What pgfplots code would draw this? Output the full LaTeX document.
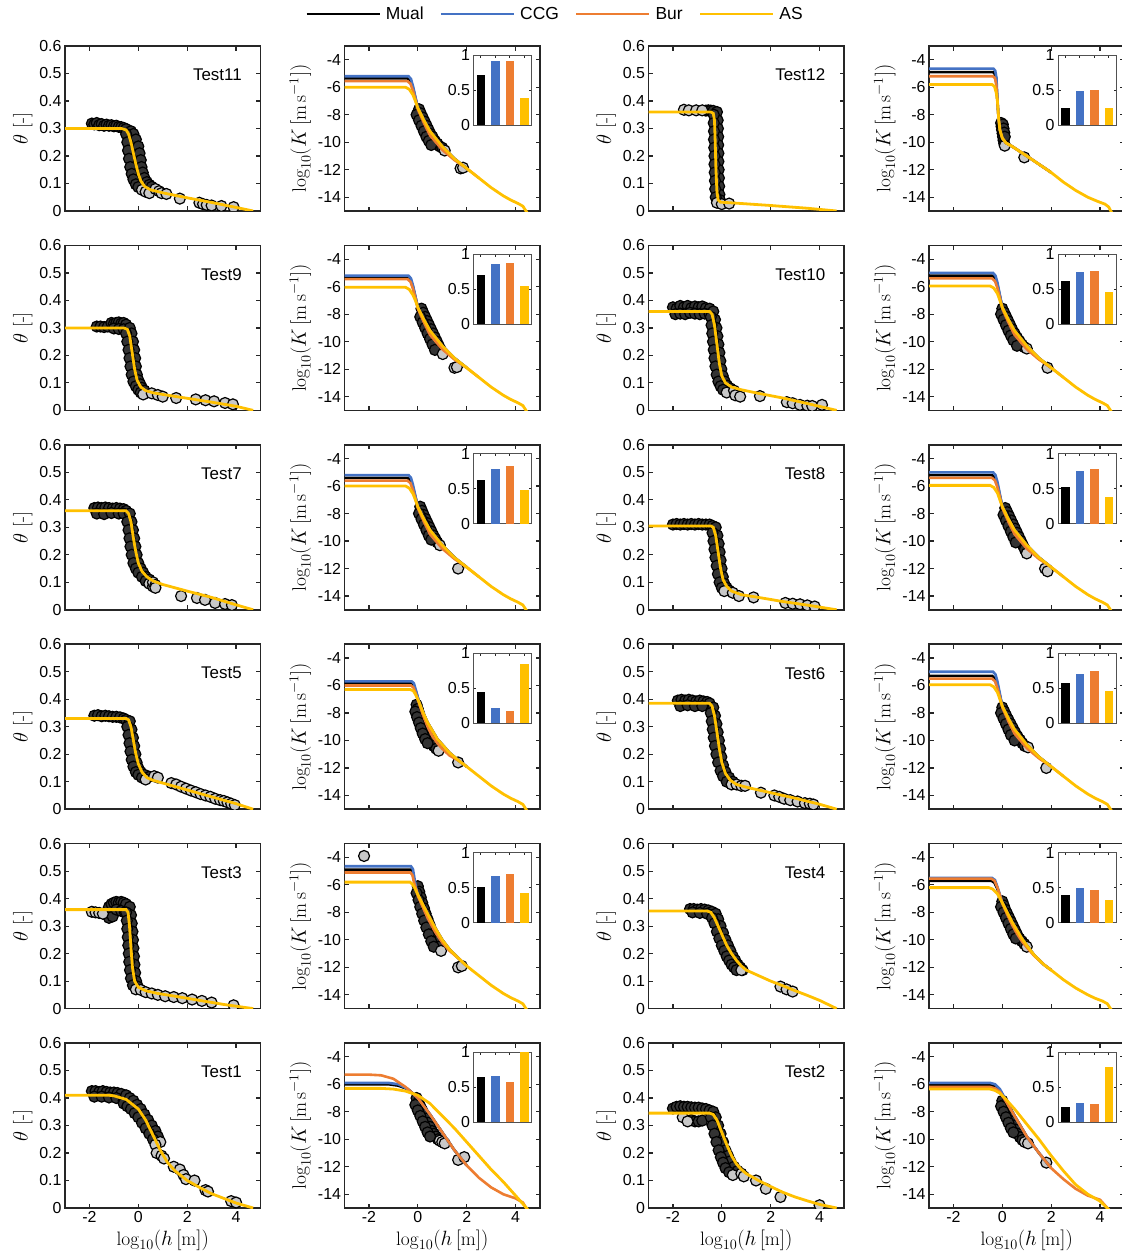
\documentclass[border=0pt]{standalone}
\usepackage{fontspec}
\setsansfont{Liberation Sans}
\usepackage{pgfplots}
\pgfplotsset{compat=1.18}
\definecolor{cblue}{HTML}{4472C4}
\definecolor{corange}{HTML}{ED7D31}
\definecolor{cyellow}{HTML}{FFC000}
\definecolor{axgray}{HTML}{262626}
\definecolor{scatfill}{HTML}{C8C8C8}
\tikzset{testlab/.style={anchor=east, font=\sffamily\fontsize{17}{17}\selectfont}}
\pgfplotsset{
 base/.style={scale only axis, width=195.5bp, height=165bp, anchor=north west,
  xmin=-3, xmax=5, xtick={-2,0,2,4}, xticklabels={},
  tick align=inside, major tick length=4.5bp,
  axis line style={draw=axgray, line width=1.5bp},
  major tick style={draw=axgray, line width=1.2bp},
  tick label style={font=\sffamily\fontsize{16}{16}\selectfont, text=black},
  label style={font=\fontsize{19.5}{22}\selectfont},
  clip=true, clip marker paths=true},
 thetaaxis/.style={base, ymin=0, ymax=0.6, ytick={0,0.1,0.2,0.3,0.4,0.5,0.6},
  yticklabels={0,0.1,0.2,0.3,0.4,0.5,0.6}, ylabel={$\theta$ [-]}},
 Kaxis/.style={base, ymin=-15, ymax=-3, ytick={-14,-12,-10,-8,-6,-4},
  yticklabels={-14,-12,-10,-8,-6,-4}, ylabel={$\log_{10}(K\,[\mathrm{m\,s^{-1}}])$}},
 bottom/.style={xticklabels={-2,0,2,4}, xlabel={$\log_{10}(h\,[\mathrm{m}])$}},
 inset/.style={scale only axis, width=58bp, height=70bp, anchor=north west,
  xmin=0.5, xmax=4.5, ymin=0, ymax=1, xtick={1,2,3,4}, xticklabels={},
  ytick={0,0.5,1}, yticklabels={0,0.5,1}, tick align=inside, major tick length=2.5bp,
  axis line style={draw=axgray!80, line width=0.9bp},
  major tick style={draw=axgray, line width=0.8bp},
  tick label style={font=\sffamily\fontsize{16}{16}\selectfont},
  axis background/.style={fill=white}},
 scat/.style={only marks, mark=*, mark size=5.5bp,
  mark options={fill=scatfill, draw=black, line width=1.2bp}, forget plot},
 band/.style={only marks, mark=*, mark size=5.5bp,
  mark options={fill=black!80, draw=black, line width=1.2bp}, forget plot},
 Mual/.style={black, line width=2.6bp},
 CCG/.style={cblue, line width=2.6bp},
 Bur/.style={corange, line width=2.6bp},
 AS/.style={cyellow, line width=2.8bp},
 legendopts/.style={legend entries={Mual,CCG,Bur,AS}, legend columns=4,
  legend image code/.code={\draw[##1] (0bp,0bp) -- (73bp,0bp);},
  legend style={draw=none, fill=none, at={(axis description cs:-0.217,1.194)}, anchor=west,
   font=\sffamily\fontsize{17.5}{18}\selectfont,
   /tikz/every even column/.append style={column sep=14bp},
   /tikz/every odd column/.append style={column sep=3bp}}},
}
% theta panel: x, y, name, AS curve, dense points, single points, extra options
\newcommand{\TP}[7]{%
\begin{axis}[thetaaxis,at={(#1bp,-#2bp)},#7]
\addplot[band] coordinates {#5};
\addplot[scat] coordinates {#6};
\addplot[AS] coordinates {#4};
\node[testlab] at (rel axis cs:0.922,0.824) {#3};
\end{axis}}
% K panel: x, y, Mual, CCG, Bur, AS, dense points, single points, extra options
\newcommand{\KP}[9]{%
\begin{axis}[Kaxis,at={(#1bp,-#2bp)},#9]
\addplot[band] coordinates {#7};
\addplot[scat] coordinates {#8};
\addplot[Mual] coordinates {#3};
\addplot[CCG] coordinates {#4};
\addplot[Bur] coordinates {#5};
\addplot[AS] coordinates {#6};
\end{axis}}
% inset: x, y of K panel, four bar values
\newcommand{\IN}[6]{%
\begin{axis}[inset,at={(#1bp+129bp,-#2bp-9bp)}]
\addplot[ybar,bar width=8.5bp,bar shift=0pt,fill=black,draw=none] coordinates {(1,#3)};
\addplot[ybar,bar width=8.5bp,bar shift=0pt,fill=cblue,draw=none] coordinates {(2,#4)};
\addplot[ybar,bar width=8.5bp,bar shift=0pt,fill=corange,draw=none] coordinates {(3,#5)};
\addplot[ybar,bar width=8.5bp,bar shift=0pt,fill=cyellow,draw=none] coordinates {(4,#6)};
\end{axis}}
\begin{document}
\begin{tikzpicture}
\useasboundingbox (0,0) rectangle (1122bp,-1258bp);
\clip (0,0) rectangle (1122bp,-1258bp);
% ================= Row 1 =================
\TP{65}{46}{Test11}
{(-3,0.30)(-0.7,0.30)(-0.5,0.295)(-0.4,0.28)(-0.3,0.25)(-0.2,0.21)(-0.1,0.17)(0,0.135)(0.1,0.11)(0.25,0.09)(0.5,0.077)(1,0.066)(2,0.048)(3,0.031)(4,0.013)(4.7,0)}
{(-1.9,0.318)(-1.8,0.315)(-1.7,0.32)(-1.6,0.312)(-1.5,0.316)(-1.4,0.31)(-1.3,0.314)(-1.2,0.31)(-1.1,0.312)(-1.0,0.308)(-0.9,0.31)(-0.8,0.306)(-0.7,0.305)(-0.6,0.302)(-0.5,0.298)
(-0.3,0.29)(-0.2,0.28)(-0.1,0.26)(0,0.235)(0.05,0.21)(0.1,0.185)(0.13,0.16)(0.18,0.14)(0.25,0.12)(0.35,0.105)(0.45,0.095)(0.55,0.088)
(-0.5,0.28)(-0.45,0.25)(-0.42,0.22)(-0.38,0.19)(-0.33,0.16)(-0.27,0.135)(-0.2,0.115)(-0.1,0.097)(0,0.087)}
{(0.15,0.077)(0.3,0.07)(0.45,0.065)(0.7,0.08)(0.85,0.072)(0.95,0.065)(1.15,0.062)(1.7,0.045)(2.5,0.03)(2.65,0.025)(2.8,0.022)(3.0,0.02)(3.4,0.018)(3.9,0.014)}{}
\KP{344.5}{46}
{(-3,-5.35)(-0.42,-5.35)(-0.3,-5.55)(-0.2,-6.05)(-0.1,-6.78)(0,-7.5)(0.25,-8.4)(0.5,-9.2)(1,-10.3)(1.5,-11.2)(2,-11.9)}
{(-3,-5.2)(-0.38,-5.2)(-0.28,-5.4)(-0.2,-5.9)(-0.1,-6.7)(0,-7.5)(0.25,-8.4)(0.5,-9.2)(1,-10.3)(1.5,-11.2)(2,-11.9)}
{(-3,-5.55)(-0.42,-5.55)(-0.3,-5.75)(-0.2,-6.25)(-0.1,-6.88)(0,-7.6)(0.25,-8.6)(0.5,-9.5)(1,-10.55)(1.5,-11.3)(2,-11.9)(2.5,-12.6)}
{(-3,-6.0)(-0.5,-6.0)(-0.35,-6.15)(-0.2,-6.55)(-0.1,-7.0)(0,-7.5)(0.25,-8.4)(0.5,-9.2)(1,-10.3)(1.5,-11.2)(2,-11.9)(2.5,-12.6)(3,-13.3)(3.5,-13.9)(3.8,-14.2)(4.1,-14.45)(4.3,-14.65)(4.5,-15.2)}
{(0.05,-7.6)(0.12,-7.9)(0.2,-8.2)(0.28,-8.5)(0.36,-8.8)(0.44,-9.1)(0.52,-9.4)(0.6,-9.6)(0.7,-9.9)(0.8,-10.1)(0.9,-10.3)(1.0,-10.4)(-0.05,-8.0)(0.05,-8.4)(0.15,-8.8)(0.25,-9.2)(0.35,-9.6)(0.45,-9.9)(0.55,-10.2)}
{(1.1,-10.6)(1.75,-11.9)(1.85,-11.85)}
{legendopts}
\IN{344.5}{46}{0.72}{0.91}{0.92}{0.39}
\TP{648.5}{46}{Test12}
{(-3,0.36)(-0.45,0.36)(-0.35,0.355)(-0.3,0.33)(-0.27,0.25)(-0.24,0.15)(-0.2,0.07)(-0.15,0.04)(-0.05,0.032)(0.5,0.029)(2,0.02)(3.5,0.01)(4.7,0)}
{(-0.65,0.365)(-0.55,0.366)(-0.45,0.365)(-0.35,0.364)
(-0.2,0.36)(-0.17,0.33)(-0.16,0.3)(-0.15,0.27)(-0.15,0.24)(-0.14,0.21)(-0.14,0.18)(-0.13,0.15)(-0.12,0.12)(-0.11,0.09)(-0.1,0.06)(-0.08,0.04)
(-0.33,0.35)(-0.33,0.32)(-0.32,0.29)(-0.32,0.26)(-0.31,0.23)(-0.3,0.2)(-0.3,0.17)(-0.29,0.14)(-0.28,0.11)(-0.27,0.08)(-0.25,0.05)}
{(-1.55,0.368)(-1.35,0.366)(-1.05,0.366)(-0.8,0.366)(-0.2,0.03)(0.0,0.025)(0.3,0.027)}{}
\KP{929}{46}
{(-3,-4.9)(-0.38,-4.9)(-0.3,-5.05)(-0.25,-5.5)(-0.2,-7.0)(-0.15,-8.3)(-0.1,-9.1)(0,-9.7)(0.15,-10.05)(0.4,-10.3)(1,-11.0)(1.5,-11.6)(2,-12.2)}
{(-3,-4.65)(-0.36,-4.65)(-0.29,-4.8)(-0.24,-5.3)(-0.2,-7.0)(-0.15,-8.3)(-0.1,-9.1)(0,-9.7)(0.15,-10.05)(0.4,-10.3)(1,-11.0)(1.5,-11.6)(2,-12.2)}
{(-3,-5.2)(-0.38,-5.2)(-0.3,-5.35)(-0.25,-5.8)(-0.2,-7.0)(-0.15,-8.3)(-0.1,-9.1)(0,-9.7)(0.15,-10.05)(0.4,-10.3)(1,-11.0)(1.5,-11.6)(2,-12.2)}
{(-3,-5.8)(-0.42,-5.8)(-0.32,-5.95)(-0.25,-6.4)(-0.2,-7.0)(-0.15,-8.3)(-0.1,-9.1)(0,-9.7)(0.15,-10.05)(0.4,-10.3)(1,-11.0)(1.5,-11.6)(2,-12.2)(2.5,-12.9)(3,-13.5)(3.5,-14.0)(3.9,-14.3)(4.2,-14.5)(4.35,-14.7)(4.5,-15.2)}
{(-0.05,-8.6)(-0.03,-8.85)(-0.01,-9.1)(0.01,-9.35)(0.03,-9.6)(0.05,-9.85)(0.08,-10.1)(0.02,-8.7)(0.05,-9.0)(0.08,-9.3)(0.1,-9.6)}
{(0.1,-10.25)(0.9,-11.1)}
{}
\IN{929}{46}{0.25}{0.48}{0.50}{0.24}
% ================= Row 2 =================
\TP{65}{245.4}{Test9}
{(-3,0.30)(-0.6,0.30)(-0.45,0.295)(-0.35,0.27)(-0.25,0.21)(-0.15,0.15)(-0.05,0.11)(0.1,0.085)(0.3,0.072)(0.6,0.064)(1,0.058)(2,0.044)(3,0.03)(4,0.015)(4.7,0)}
{(-1.7,0.305)(-1.55,0.305)(-1.4,0.303)(-1.25,0.305)(-1.1,0.318)(-1.0,0.315)(-0.9,0.318)(-0.8,0.32)(-0.7,0.316)(-0.6,0.318)(-0.5,0.312)(-1.0,0.298)(-0.8,0.296)(-0.6,0.295)
(-0.35,0.3)(-0.28,0.28)(-0.22,0.25)(-0.17,0.22)(-0.13,0.19)(-0.1,0.16)(-0.06,0.13)(0,0.11)(0.08,0.095)(0.15,0.082)(0.25,0.072)
(-0.5,0.28)(-0.45,0.25)(-0.4,0.22)(-0.36,0.19)(-0.32,0.16)(-0.27,0.13)(-0.2,0.105)(-0.1,0.088)(0,0.075)(0.1,0.065)}
{(0.2,0.058)(0.55,0.062)(0.8,0.056)(1.0,0.05)(1.55,0.045)(2.35,0.04)(2.75,0.037)(3.1,0.033)(3.55,0.027)(3.87,0.022)}{}
\KP{344.5}{245.4}
{(-3,-5.3)(-0.42,-5.3)(-0.3,-5.5)(-0.2,-6.0)(-0.1,-6.75)(0,-7.5)(0.25,-8.4)(0.5,-9.2)(1,-10.3)(1.5,-11.2)(2,-11.9)}
{(-3,-5.2)(-0.38,-5.2)(-0.28,-5.4)(-0.2,-5.9)(-0.1,-6.7)(0,-7.5)(0.25,-8.4)(0.5,-9.2)(1,-10.3)(1.5,-11.2)(2,-11.9)}
{(-3,-5.45)(-0.42,-5.45)(-0.3,-5.65)(-0.2,-6.15)(-0.1,-6.83)(0,-7.6)(0.25,-8.6)(0.5,-9.5)(1,-10.55)(1.5,-11.3)(2,-11.9)(2.5,-12.6)}
{(-3,-6.05)(-0.5,-6.05)(-0.35,-6.2)(-0.2,-6.6)(-0.1,-7.0)(0,-7.5)(0.25,-8.4)(0.5,-9.2)(1,-10.3)(1.5,-11.2)(2,-11.9)(2.5,-12.6)(3,-13.3)(3.5,-13.9)(3.8,-14.2)(4.1,-14.45)(4.3,-14.65)(4.5,-15.2)}
{(0.15,-7.6)(0.22,-7.9)(0.3,-8.2)(0.38,-8.5)(0.46,-8.8)(0.54,-9.1)(0.62,-9.4)(0.7,-9.7)(0.78,-10.0)(0.86,-10.3)(0.94,-10.6)(0.1,-8.2)(0.2,-8.6)(0.3,-9.0)(0.4,-9.4)(0.5,-9.8)(0.6,-10.2)(0.7,-10.6)}
{(1.02,-10.9)(1.5,-11.9)(1.6,-11.85)}
{}
\IN{344.5}{245.4}{0.70}{0.86}{0.88}{0.55}
\TP{648.5}{245.4}{Test10}
{(-3,0.36)(-0.5,0.36)(-0.4,0.35)(-0.3,0.31)(-0.2,0.24)(-0.1,0.17)(0,0.125)(0.15,0.1)(0.4,0.085)(0.8,0.075)(1.5,0.062)(2.5,0.045)(3.5,0.025)(4.7,0)}
{(-2.0,0.375)(-1.85,0.37)(-1.7,0.38)(-1.55,0.375)(-1.4,0.38)(-1.25,0.372)(-1.1,0.378)(-0.95,0.375)(-0.8,0.378)(-0.65,0.372)(-0.5,0.37)
(-1.9,0.35)(-1.7,0.352)(-1.5,0.35)(-1.3,0.355)(-1.1,0.352)(-0.9,0.35)(-0.7,0.352)(-0.5,0.35)
(-0.35,0.36)(-0.28,0.33)(-0.22,0.3)(-0.18,0.27)(-0.14,0.24)(-0.1,0.21)(-0.06,0.18)(-0.02,0.15)(0.04,0.125)(0.12,0.105)(0.22,0.09)(0.35,0.08)
(-0.45,0.34)(-0.42,0.31)(-0.39,0.28)(-0.36,0.25)(-0.33,0.22)(-0.3,0.19)(-0.26,0.16)(-0.21,0.13)(-0.14,0.105)(-0.05,0.088)(0.05,0.075)}
{(0.2,0.065)(0.5,0.072)(0.55,0.055)(0.75,0.05)(1.56,0.052)(2.66,0.03)(2.9,0.026)(3.2,0.02)(3.5,0.017)(3.7,0.016)(4.1,0.02)}{}
\KP{929}{245.4}
{(-3,-5.2)(-0.42,-5.2)(-0.3,-5.4)(-0.2,-5.9)(-0.1,-6.7)(0,-7.5)(0.25,-8.4)(0.5,-9.2)(1,-10.3)(1.5,-11.2)(2,-11.9)}
{(-3,-5.0)(-0.38,-5.0)(-0.28,-5.2)(-0.2,-5.7)(-0.1,-6.6)(0,-7.5)(0.25,-8.4)(0.5,-9.2)(1,-10.3)(1.5,-11.2)(2,-11.9)}
{(-3,-5.4)(-0.42,-5.4)(-0.3,-5.6)(-0.2,-6.1)(-0.1,-6.8)(0,-7.6)(0.25,-8.6)(0.5,-9.5)(1,-10.55)(1.5,-11.3)(2,-11.9)(2.5,-12.6)}
{(-3,-5.95)(-0.5,-5.95)(-0.35,-6.1)(-0.2,-6.5)(-0.1,-7.0)(0,-7.5)(0.25,-8.4)(0.5,-9.2)(1,-10.3)(1.5,-11.2)(2,-11.9)(2.5,-12.6)(3,-13.3)(3.5,-13.9)(3.8,-14.2)(4.1,-14.45)(4.3,-14.65)(4.5,-15.2)}
{(0,-7.6)(0.08,-7.9)(0.16,-8.2)(0.24,-8.5)(0.32,-8.8)(0.4,-9.1)(0.5,-9.4)(0.6,-9.7)(0.7,-9.95)(0.8,-10.2)(0.9,-10.4)(-0.05,-8.0)(0.05,-8.4)(0.15,-8.8)(0.25,-9.2)(0.35,-9.55)(0.45,-9.9)(0.6,-10.3)}
{(1.0,-10.5)(1.85,-11.9)}
{}
\IN{929}{245.4}{0.62}{0.75}{0.76}{0.46}
% ================= Row 3 =================
\TP{65}{444.8}{Test7}
{(-3,0.36)(-0.5,0.36)(-0.4,0.35)(-0.3,0.32)(-0.2,0.26)(-0.1,0.21)(0,0.17)(0.15,0.14)(0.35,0.12)(0.6,0.105)(1,0.092)(2,0.068)(3,0.045)(4,0.018)(4.7,0)}
{(-1.8,0.37)(-1.65,0.372)(-1.5,0.37)(-1.35,0.372)(-1.2,0.37)(-1.05,0.368)(-0.9,0.37)(-0.75,0.368)(-0.6,0.366)(-0.5,0.36)(-1.7,0.35)(-1.4,0.348)(-1.1,0.352)(-0.8,0.35)(-0.6,0.35)
(-0.35,0.35)(-0.28,0.32)(-0.22,0.29)(-0.17,0.26)(-0.12,0.23)(-0.07,0.2)(0,0.17)(0.1,0.15)(0.2,0.135)(0.3,0.12)(0.45,0.11)
(-0.45,0.32)(-0.4,0.29)(-0.36,0.26)(-0.32,0.23)(-0.27,0.2)(-0.2,0.17)(-0.1,0.15)(0,0.135)(0.15,0.12)(0.3,0.105)}
{(0.45,0.095)(0.6,0.085)(0.6,0.1)(0.7,0.09)(0.7,0.08)(1.75,0.05)(2.4,0.043)(2.73,0.036)(3.14,0.025)(3.55,0.021)(3.83,0.017)}{}
\KP{344.5}{444.8}
{(-3,-5.4)(-0.42,-5.4)(-0.3,-5.6)(-0.2,-6.1)(-0.1,-6.8)(0,-7.5)(0.25,-8.4)(0.5,-9.2)(1,-10.3)(1.5,-11.2)(2,-11.9)}
{(-3,-5.2)(-0.38,-5.2)(-0.28,-5.4)(-0.2,-5.9)(-0.1,-6.7)(0,-7.5)(0.25,-8.4)(0.5,-9.2)(1,-10.3)(1.5,-11.2)(2,-11.9)}
{(-3,-5.6)(-0.42,-5.6)(-0.3,-5.8)(-0.2,-6.3)(-0.1,-6.9)(0,-7.6)(0.25,-8.6)(0.5,-9.5)(1,-10.55)(1.5,-11.3)(2,-11.9)(2.5,-12.6)}
{(-3,-6.0)(-0.5,-6.0)(-0.35,-6.15)(-0.2,-6.55)(-0.1,-7.0)(0,-7.5)(0.25,-8.4)(0.5,-9.2)(1,-10.3)(1.5,-11.2)(2,-11.9)(2.5,-12.6)(3,-13.3)(3.5,-13.9)(3.8,-14.2)(4.1,-14.45)(4.3,-14.65)(4.5,-15.2)}
{(0.1,-7.5)(0.17,-7.8)(0.24,-8.1)(0.32,-8.4)(0.4,-8.7)(0.48,-9.0)(0.56,-9.3)(0.64,-9.6)(0.72,-9.85)(0.8,-10.1)(0.05,-8.0)(0.15,-8.4)(0.25,-8.8)(0.35,-9.2)(0.45,-9.6)(0.55,-9.9)}
{(0.9,-10.3)(1.65,-12.0)}
{}
\IN{344.5}{444.8}{0.63}{0.78}{0.82}{0.48}
\TP{648.5}{444.8}{Test8}
{(-3,0.305)(-0.45,0.305)(-0.35,0.3)(-0.25,0.27)(-0.15,0.21)(-0.05,0.15)(0.05,0.11)(0.2,0.085)(0.4,0.068)(0.8,0.055)(1.5,0.045)(2.5,0.03)(3.5,0.017)(4.7,0)}
{(-2.0,0.31)(-1.85,0.312)(-1.7,0.31)(-1.55,0.312)(-1.4,0.31)(-1.25,0.312)(-1.1,0.31)(-0.95,0.312)(-0.8,0.31)(-0.65,0.31)(-0.5,0.31)(-0.38,0.305)
(-0.25,0.3)(-0.18,0.27)(-0.13,0.24)(-0.09,0.21)(-0.05,0.18)(-0.01,0.15)(0.04,0.12)(0.1,0.095)(0.2,0.08)(0.3,0.07)
(-0.38,0.28)(-0.34,0.25)(-0.3,0.22)(-0.26,0.19)(-0.21,0.16)(-0.16,0.13)(-0.09,0.1)(0,0.08)}
{(0.1,0.068)(0.45,0.062)(0.7,0.05)(1.3,0.045)(2.6,0.025)(2.9,0.022)(3.2,0.02)(3.5,0.016)(3.8,0.012)}{}
\KP{929}{444.8}
{(-3,-5.2)(-0.42,-5.2)(-0.3,-5.4)(-0.2,-5.9)(-0.1,-6.7)(0,-7.5)(0.25,-8.4)(0.5,-9.2)(1,-10.3)(1.5,-11.2)(2,-11.9)}
{(-3,-5.0)(-0.38,-5.0)(-0.28,-5.2)(-0.2,-5.7)(-0.1,-6.6)(0,-7.5)(0.25,-8.4)(0.5,-9.2)(1,-10.3)(1.5,-11.2)(2,-11.9)}
{(-3,-5.4)(-0.42,-5.4)(-0.3,-5.6)(-0.2,-6.1)(-0.1,-6.8)(0,-7.6)(0.25,-8.6)(0.5,-9.5)(1,-10.55)(1.5,-11.3)(2,-11.9)(2.5,-12.6)}
{(-3,-5.95)(-0.5,-5.95)(-0.35,-6.1)(-0.2,-6.5)(-0.1,-7.0)(0,-7.5)(0.25,-8.4)(0.5,-9.2)(1,-10.3)(1.5,-11.2)(2,-11.9)(2.5,-12.6)(3,-13.3)(3.5,-13.9)(3.8,-14.2)(4.1,-14.45)(4.3,-14.65)(4.5,-15.2)}
{(0.12,-7.6)(0.2,-7.9)(0.28,-8.2)(0.36,-8.5)(0.44,-8.8)(0.52,-9.1)(0.6,-9.4)(0.68,-9.7)(0.76,-10.0)(0.84,-10.3)(0.92,-10.6)(0.05,-8.1)(0.15,-8.5)(0.25,-8.9)(0.35,-9.3)(0.45,-9.7)(0.55,-10.1)}
{(1.0,-10.9)(1.75,-12.0)(1.85,-12.2)}
{}
\IN{929}{444.8}{0.53}{0.75}{0.78}{0.39}
% ================= Row 4 =================
\TP{65}{644.2}{Test5}
{(-3,0.33)(-0.5,0.33)(-0.4,0.325)(-0.3,0.3)(-0.2,0.25)(-0.1,0.2)(0,0.165)(0.15,0.135)(0.35,0.115)(0.6,0.105)(1,0.095)(2,0.07)(3,0.045)(4,0.02)(4.7,0)}
{(-1.8,0.34)(-1.65,0.342)(-1.5,0.338)(-1.35,0.34)(-1.2,0.338)(-1.05,0.336)(-0.9,0.336)(-0.75,0.334)(-0.6,0.33)(-0.5,0.325)
(-0.35,0.32)(-0.28,0.29)(-0.22,0.26)(-0.17,0.23)(-0.12,0.2)(-0.07,0.17)(0,0.15)(0.1,0.135)(0.25,0.125)(0.45,0.118)
(-0.45,0.3)(-0.4,0.27)(-0.36,0.24)(-0.32,0.21)(-0.27,0.18)(-0.2,0.155)(-0.1,0.135)(0,0.125)(0.15,0.115)}
{(0.3,0.108)(0.65,0.12)(0.8,0.115)(1.35,0.095)(1.55,0.09)(1.75,0.082)(1.95,0.075)(2.15,0.068)(2.35,0.062)(2.55,0.055)(2.75,0.05)(2.95,0.045)(3.15,0.038)(3.35,0.033)(3.5,0.03)(3.65,0.025)(3.8,0.02)(3.95,0.015)}{}
\KP{344.5}{644.2}
{(-3,-5.85)(-0.28,-5.85)(-0.18,-6.0)(-0.08,-6.45)(0.05,-7.2)(0.2,-7.9)(0.4,-8.7)(0.6,-9.3)(0.8,-9.9)(1,-10.3)(1.3,-10.9)(1.7,-11.5)(2,-11.9)}
{(-3,-5.7)(-0.25,-5.7)(-0.16,-5.85)(-0.07,-6.4)(0.05,-7.2)(0.2,-7.9)(0.4,-8.7)(0.6,-9.3)(0.8,-9.9)(1,-10.3)(1.3,-10.9)(1.7,-11.5)(2,-11.9)}
{(-3,-6.0)(-0.28,-6.0)(-0.18,-6.15)(-0.08,-6.6)(0.05,-7.3)(0.2,-8.1)(0.4,-9.0)(0.6,-9.7)(0.8,-10.2)(1,-10.6)(1.3,-11.1)(1.7,-11.5)(2,-11.9)}
{(-3,-6.3)(-0.3,-6.3)(-0.18,-6.4)(-0.08,-6.7)(0.05,-7.2)(0.2,-7.9)(0.4,-8.7)(0.6,-9.3)(0.8,-9.9)(1,-10.3)(1.3,-10.9)(1.7,-11.5)(2,-11.9)(2.5,-12.6)(3,-13.3)(3.5,-13.9)(3.8,-14.2)(4.1,-14.45)(4.3,-14.65)(4.5,-15.2)}
{(-0.05,-7.4)(0,-7.7)(0.05,-8.0)(0.1,-8.3)(0.15,-8.6)(0.22,-8.9)(0.3,-9.2)(0.38,-9.5)(0.46,-9.8)(0.55,-10.1)(0.65,-10.4)(0.75,-10.6)(-0.1,-7.9)(-0.03,-8.3)(0.05,-8.7)(0.12,-9.1)(0.2,-9.5)(0.3,-9.9)(0.4,-10.2)}
{(0.85,-10.75)(1.65,-11.6)}
{}
\IN{344.5}{644.2}{0.44}{0.22}{0.18}{0.85}
\TP{648.5}{644.2}{Test6}
{(-3,0.385)(-0.5,0.385)(-0.4,0.375)(-0.3,0.34)(-0.2,0.28)(-0.1,0.22)(0,0.17)(0.15,0.13)(0.35,0.105)(0.6,0.09)(1,0.08)(2,0.06)(3,0.04)(4,0.018)(4.7,0)}
{(-1.8,0.395)(-1.65,0.398)(-1.5,0.395)(-1.35,0.398)(-1.2,0.395)(-1.05,0.392)(-0.9,0.395)(-0.75,0.392)(-0.6,0.39)(-0.5,0.385)(-1.7,0.375)(-1.4,0.378)(-1.1,0.375)(-0.8,0.375)
(-0.35,0.37)(-0.28,0.34)(-0.22,0.31)(-0.17,0.28)(-0.12,0.25)(-0.07,0.22)(-0.02,0.19)(0.05,0.16)(0.15,0.135)(0.3,0.115)(0.45,0.1)
(-0.45,0.35)(-0.41,0.32)(-0.37,0.29)(-0.33,0.26)(-0.28,0.23)(-0.22,0.2)(-0.15,0.17)(-0.05,0.14)(0.05,0.12)(0.2,0.1)}
{(0.4,0.09)(0.6,0.09)(0.8,0.085)(0.95,0.085)(1.6,0.06)(2.15,0.05)(2.35,0.045)(2.55,0.038)(2.8,0.033)(3.1,0.028)(3.4,0.022)(3.6,0.02)(3.75,0.017)}{}
\KP{929}{644.2}
{(-3,-5.3)(-0.42,-5.3)(-0.3,-5.5)(-0.2,-6.0)(-0.1,-6.75)(0,-7.5)(0.25,-8.4)(0.5,-9.2)(1,-10.3)(1.5,-11.2)(2,-11.9)}
{(-3,-5.0)(-0.38,-5.0)(-0.28,-5.2)(-0.2,-5.7)(-0.1,-6.6)(0,-7.5)(0.25,-8.4)(0.5,-9.2)(1,-10.3)(1.5,-11.2)(2,-11.9)}
{(-3,-5.5)(-0.42,-5.5)(-0.3,-5.7)(-0.2,-6.2)(-0.1,-6.85)(0,-7.6)(0.25,-8.6)(0.5,-9.5)(1,-10.55)(1.5,-11.3)(2,-11.9)(2.5,-12.6)}
{(-3,-5.95)(-0.5,-5.95)(-0.35,-6.1)(-0.2,-6.5)(-0.1,-7.0)(0,-7.5)(0.25,-8.4)(0.5,-9.2)(1,-10.3)(1.5,-11.2)(2,-11.9)(2.5,-12.6)(3,-13.3)(3.5,-13.9)(3.8,-14.2)(4.1,-14.45)(4.3,-14.65)(4.5,-15.2)}
{(0,-7.6)(0.08,-7.9)(0.16,-8.2)(0.25,-8.5)(0.34,-8.8)(0.43,-9.1)(0.52,-9.4)(0.62,-9.7)(0.72,-9.95)(0.82,-10.2)(0.92,-10.4)(-0.05,-8.0)(0.05,-8.4)(0.15,-8.8)(0.25,-9.2)(0.35,-9.6)(0.5,-10.0)}
{(1.05,-10.5)(1.8,-12.0)}
{}
\IN{929}{644.2}{0.57}{0.70}{0.75}{0.46}
% ================= Row 5 =================
\TP{65}{843.6}{Test3}
{(-3,0.36)(-0.5,0.36)(-0.42,0.35)(-0.36,0.3)(-0.3,0.22)(-0.24,0.15)(-0.15,0.1)(0,0.078)(0.3,0.065)(0.8,0.055)(1.5,0.045)(2.5,0.03)(3.5,0.015)(4.7,0)}
{(-1.3,0.34)(-1.2,0.33)(-1.05,0.335)(-1.2,0.37)(-1.1,0.38)(-1.0,0.385)(-0.9,0.388)(-0.8,0.385)(-0.7,0.388)(-0.6,0.385)(-0.5,0.38)(-0.9,0.36)(-0.7,0.355)(-0.55,0.35)
(-0.35,0.37)(-0.3,0.34)(-0.27,0.31)(-0.24,0.28)(-0.22,0.25)(-0.2,0.22)(-0.18,0.19)(-0.16,0.16)(-0.13,0.13)(-0.09,0.1)(-0.02,0.08)
(-0.5,0.35)(-0.47,0.32)(-0.45,0.29)(-0.43,0.26)(-0.41,0.23)(-0.39,0.2)(-0.37,0.17)(-0.34,0.14)(-0.3,0.11)(-0.22,0.085)}
{(-1.9,0.352)(-1.75,0.35)(-1.6,0.348)(-1.45,0.345)(-0.1,0.07)(0.1,0.068)(0.3,0.06)(0.55,0.055)(0.8,0.05)(1.1,0.045)(1.45,0.042)(1.8,0.038)(2.2,0.033)(2.6,0.028)(3.0,0.022)(3.9,0.012)}{}
\KP{344.5}{843.6}
{(-3,-4.9)(-0.3,-4.9)(-0.22,-5.1)(-0.15,-5.7)(-0.07,-6.2)(0,-6.7)(0.2,-7.4)(0.4,-8.1)(0.7,-9.1)(1,-10.0)(1.3,-10.7)(1.7,-11.4)(2,-11.9)}
{(-3,-4.65)(-0.28,-4.65)(-0.2,-4.85)(-0.14,-5.5)(-0.07,-6.2)(0,-6.7)(0.2,-7.4)(0.4,-8.1)(0.7,-9.1)(1,-10.0)(1.3,-10.7)(1.7,-11.4)(2,-11.9)}
{(-3,-5.1)(-0.3,-5.1)(-0.22,-5.3)(-0.15,-5.85)(-0.07,-6.3)(0,-6.8)(0.2,-7.6)(0.4,-8.4)(0.7,-9.4)(1,-10.2)(1.3,-10.8)(1.7,-11.4)(2,-11.9)}
{(-3,-5.8)(-0.32,-5.8)(-0.22,-5.95)(-0.12,-6.25)(0,-6.7)(0.2,-7.4)(0.4,-8.1)(0.7,-9.1)(1,-10.0)(1.3,-10.7)(1.7,-11.4)(2,-11.9)(2.5,-12.6)(3,-13.3)(3.5,-13.9)(3.8,-14.2)(4.1,-14.45)(4.3,-14.65)(4.5,-15.2)}
{(0,-6.1)(0.06,-6.5)(0.12,-6.9)(0.18,-7.3)(0.25,-7.7)(0.32,-8.1)(0.4,-8.5)(0.48,-8.9)(0.56,-9.3)(0.65,-9.7)(0.75,-10.1)(0.85,-10.5)(-0.05,-6.6)(0.03,-7.1)(0.1,-7.6)(0.18,-8.1)(0.26,-8.6)(0.35,-9.1)(0.45,-9.6)(0.55,-10.1)(0.65,-10.5)}
{(-2.2,-3.9)(0.95,-10.8)(1.65,-12.0)(1.8,-11.9)}
{}
\IN{344.5}{843.6}{0.51}{0.66}{0.69}{0.42}
\TP{648.5}{843.6}{Test4}
{(-3,0.355)(-0.6,0.355)(-0.45,0.35)(-0.3,0.33)(-0.15,0.3)(0,0.27)(0.2,0.23)(0.4,0.2)(0.6,0.175)(0.8,0.155)(1,0.14)(1.5,0.12)(2,0.1)(2.5,0.083)(3,0.065)(3.5,0.048)(4,0.03)(4.7,0)}
{(-1.3,0.362)(-1.15,0.362)(-1.0,0.36)(-0.85,0.362)(-0.7,0.36)(-0.55,0.357)(-0.4,0.352)(-1.2,0.35)(-0.9,0.348)(-0.6,0.345)
(-0.25,0.345)(-0.15,0.325)(-0.05,0.3)(0.05,0.275)(0.15,0.25)(0.25,0.23)(0.35,0.21)(0.45,0.19)(0.55,0.175)(0.65,0.16)(0.75,0.15)
(-0.4,0.33)(-0.3,0.31)(-0.2,0.28)(-0.1,0.255)(0,0.23)(0.1,0.21)(0.2,0.19)(0.3,0.175)(0.4,0.16)(0.5,0.15)(0.6,0.14)}
{(0.85,0.14)(0.8,0.14)(2.4,0.08)(2.65,0.07)(2.9,0.062)}{}
\KP{929}{843.6}
{(-3,-5.7)(-0.45,-5.7)(-0.32,-5.85)(-0.2,-6.3)(-0.1,-6.8)(0,-7.3)(0.2,-8.0)(0.4,-8.7)(0.6,-9.3)(0.8,-9.9)(1,-10.4)(1.3,-11.1)(1.7,-11.8)(2,-12.2)}
{(-3,-5.5)(-0.42,-5.5)(-0.3,-5.65)(-0.2,-6.15)(-0.1,-6.7)(0,-7.3)(0.2,-8.0)(0.4,-8.7)(0.6,-9.3)(0.8,-9.9)(1,-10.4)(1.3,-11.1)(1.7,-11.8)(2,-12.2)}
{(-3,-5.55)(-0.45,-5.55)(-0.32,-5.7)(-0.2,-6.2)(-0.1,-6.75)(0,-7.35)(0.2,-8.15)(0.4,-8.9)(0.6,-9.55)(0.8,-10.1)(1,-10.55)(1.3,-11.15)(1.7,-11.8)(2,-12.2)}
{(-3,-6.2)(-0.55,-6.2)(-0.4,-6.3)(-0.2,-6.65)(0,-7.3)(0.2,-8.0)(0.4,-8.7)(0.6,-9.3)(0.8,-9.9)(1,-10.4)(1.3,-11.1)(1.7,-11.8)(2,-12.2)(2.5,-12.9)(3,-13.5)(3.5,-14.0)(3.8,-14.25)(4.1,-14.45)(4.3,-14.65)(4.5,-15.2)}
{(0,-7.2)(0.06,-7.5)(0.12,-7.8)(0.2,-8.1)(0.28,-8.4)(0.36,-8.7)(0.44,-9.0)(0.52,-9.3)(0.6,-9.6)(0.7,-9.9)(0.8,-10.1)(0.9,-10.3)(-0.05,-7.6)(0.05,-8.0)(0.15,-8.4)(0.25,-8.8)(0.35,-9.2)(0.45,-9.6)(0.55,-9.9)}
{(1.0,-10.5)}
{}
\IN{929}{843.6}{0.39}{0.49}{0.47}{0.32}
% ================= Row 6 =================
\TP{65}{1043}{Test1}
{(-3,0.41)(-1.2,0.41)(-1,0.408)(-0.5,0.395)(0,0.36)(0.3,0.32)(0.6,0.265)(0.9,0.21)(1.2,0.165)(1.5,0.135)(2,0.1)(2.5,0.075)(3,0.052)(3.5,0.035)(4,0.018)(4.7,0)}
{(-1.9,0.425)(-1.75,0.425)(-1.6,0.422)(-1.45,0.425)(-1.3,0.422)(-1.15,0.42)(-1.0,0.42)(-0.85,0.418)(-0.7,0.415)(-1.8,0.405)(-1.5,0.405)(-1.2,0.402)(-0.9,0.4)(-0.6,0.39)
(-0.5,0.41)(-0.35,0.4)(-0.2,0.39)(-0.05,0.375)(0.1,0.36)(0.25,0.34)(0.4,0.32)(0.55,0.3)(0.7,0.28)(0.8,0.26)
(-0.6,0.38)(-0.45,0.37)(-0.3,0.36)(-0.15,0.345)(0,0.33)(0.15,0.31)(0.3,0.29)(0.45,0.27)(0.6,0.25)}
{(0.9,0.24)(0.7,0.23)(0.75,0.2)(0.95,0.19)(1.05,0.18)(1.45,0.15)(1.7,0.14)(1.85,0.12)(1.95,0.105)(2.3,0.1)(2.75,0.065)(2.85,0.06)(3.8,0.025)(4.0,0.02)}{bottom}
\KP{344.5}{1043}
{(-3,-6.0)(-1.2,-6.0)(-0.8,-6.1)(-0.4,-6.36)(0,-7.0)(0.5,-8.2)(1,-9.5)(1.5,-10.8)(2,-11.9)}
{(-3,-5.9)(-1.2,-5.9)(-0.8,-6.0)(-0.4,-6.36)(0,-7.0)(0.5,-8.2)(1,-9.5)(1.5,-10.8)(2,-11.9)}
{(-3,-5.3)(-2,-5.3)(-1.5,-5.35)(-1,-5.6)(-0.5,-6.2)(0,-7.0)(0.5,-8.2)(1,-9.5)(1.5,-10.8)(2,-11.9)(2.5,-12.8)(3,-13.5)(3.5,-14.0)(4,-14.3)(4.3,-14.6)(4.5,-15.2)}
{(-3,-6.3)(-1.5,-6.3)(-1,-6.35)(-0.5,-6.5)(0,-6.8)(0.5,-7.4)(1,-8.3)(1.5,-9.2)(2,-10.2)(2.5,-11.2)(3,-12.2)(3.5,-13.1)(4,-14.1)(4.5,-15.1)}
{(-0.05,-7.0)(0.02,-7.3)(0.1,-7.6)(0.18,-7.9)(0.26,-8.2)(0.34,-8.5)(0.42,-8.8)(0.5,-9.1)(0.58,-9.4)(0.66,-9.6)(0.74,-9.8)(0.82,-10.0)(-0.1,-7.5)(0,-7.9)(0.1,-8.3)(0.2,-8.7)(0.3,-9.1)(0.4,-9.5)(0.5,-9.8)}
{(0.9,-10.1)(1.0,-10.2)(1.1,-10.3)(1.65,-11.5)(1.9,-11.3)}
{bottom}
\IN{344.5}{1043}{0.65}{0.66}{0.57}{1.0}
\TP{648.5}{1043}{Test2}
{(-3,0.345)(-0.5,0.345)(-0.35,0.34)(-0.2,0.32)(0,0.275)(0.2,0.23)(0.4,0.19)(0.6,0.16)(0.8,0.14)(1,0.125)(1.5,0.1)(2,0.078)(2.5,0.057)(3,0.04)(3.5,0.026)(4,0.013)(4.7,0)}
{(-2.0,0.362)(-1.85,0.368)(-1.7,0.37)(-1.55,0.368)(-1.4,0.368)(-1.25,0.366)(-1.1,0.365)(-0.95,0.365)(-0.8,0.362)(-0.65,0.36)(-0.5,0.355)(-1.25,0.32)(-1.1,0.315)(-0.95,0.315)(-0.8,0.318)
(-0.35,0.35)(-0.25,0.33)(-0.15,0.3)(-0.05,0.27)(0.05,0.24)(0.15,0.21)(0.25,0.19)(0.35,0.17)(0.5,0.15)(0.65,0.135)
(-0.45,0.33)(-0.38,0.3)(-0.3,0.27)(-0.22,0.24)(-0.13,0.21)(-0.04,0.185)(0.05,0.165)(0.15,0.145)(0.3,0.13)}
{(-1.6,0.33)(-1.4,0.315)(0.45,0.12)(0.8,0.125)(0.9,0.115)(1.4,0.1)(1.8,0.07)(2.4,0.04)(4.0,0.01)}{bottom}
\KP{929}{1043}
{(-3,-6.05)(-0.5,-6.05)(-0.3,-6.15)(-0.1,-6.45)(0.1,-7.05)(0.5,-8.3)(1,-9.8)(1.5,-11.0)(2,-12.1)}
{(-3,-5.9)(-0.5,-5.9)(-0.3,-6.0)(-0.1,-6.35)(0.1,-7.0)(0.5,-8.3)(1,-9.8)(1.5,-11.0)(2,-12.1)}
{(-3,-6.2)(-0.5,-6.2)(-0.3,-6.3)(-0.1,-6.55)(0.1,-7.1)(0.5,-8.3)(1,-9.8)(1.5,-11.0)(2,-12.1)(2.5,-12.9)(3,-13.6)(3.5,-14.1)(4,-14.4)(4.4,-15.2)}
{(-3,-6.35)(-0.5,-6.35)(-0.3,-6.45)(-0.1,-6.65)(0.1,-7.0)(0.5,-7.8)(1,-8.9)(1.5,-10.0)(2,-11.2)(2.5,-12.3)(3,-13.3)(3.5,-14.0)(4,-14.5)(4.4,-15.2)}
{(0,-7.2)(0.07,-7.5)(0.15,-7.8)(0.23,-8.1)(0.31,-8.4)(0.39,-8.7)(0.47,-9.0)(0.55,-9.3)(0.63,-9.6)(0.72,-9.85)(0.82,-10.05)(-0.05,-7.6)(0.05,-8.0)(0.15,-8.4)(0.25,-8.8)(0.35,-9.2)(0.45,-9.5)}
{(0.92,-10.2)(1.05,-10.3)(1.8,-11.7)}
{bottom}
\IN{929}{1043}{0.21}{0.27}{0.26}{0.78}
\end{tikzpicture}
\end{document}
